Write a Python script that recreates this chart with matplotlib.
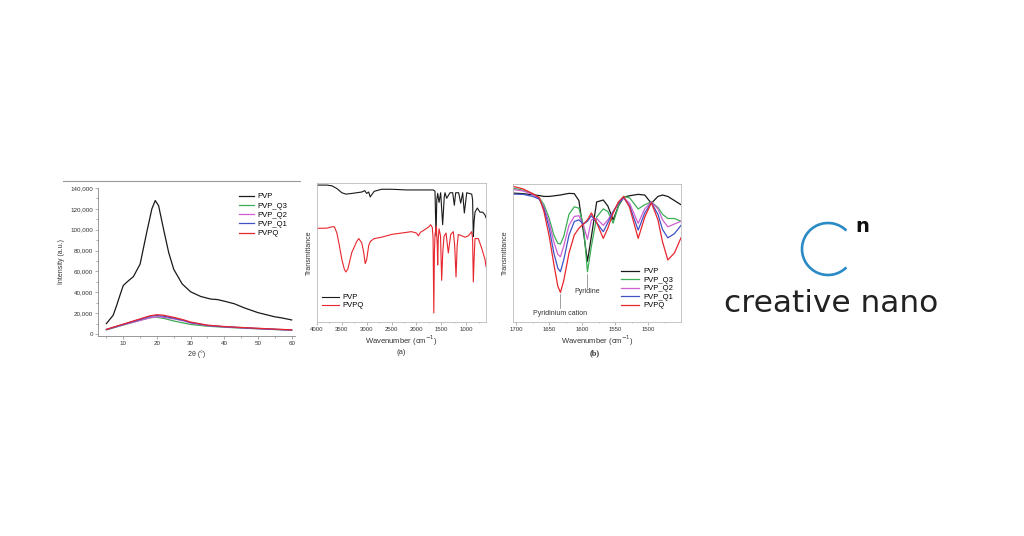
import numpy as np
import matplotlib
matplotlib.use("Agg")
import matplotlib.pyplot as plt
from matplotlib.patches import Arc

plt.rcParams['font.family'] = ['Liberation Sans', 'DejaVu Sans']

# ---- XRD panel ----
two_theta = [5, 7, 8, 9, 10, 11.5, 13, 15, 17, 18.5, 19.5, 20.5, 22, 23.5, 25, 27.5, 30,
             33, 36, 38, 40, 43, 46, 50, 55, 57, 60]
xrd_pvp = [10000, 18000, 27000, 37000, 46500, 51000, 55000, 67000, 98000, 120000, 128000,
           123000, 100000, 78000, 62000, 48000, 40500, 36000, 33500, 33000, 31500, 29000,
           25000, 20500, 16500, 15500, 13500]
two_theta_q = [5, 10, 15, 18, 20, 22, 25, 28, 30, 35, 40, 45, 50, 55, 60]
xrd_q3 = [4000, 8600, 13200, 15800, 16000, 15000, 12500, 10500, 9200, 7500, 6500, 5700, 5000, 4300, 3700]
xrd_q2 = [4200, 8800, 13000, 15500, 16500, 16000, 14500, 12500, 10500, 8000, 6800, 5900, 5100, 4400, 3800]
xrd_q1 = [4300, 9200, 14000, 17000, 17800, 17000, 15200, 13000, 11000, 8200, 7000, 6100, 5300, 4500, 3900]
xrd_pvpq = [4500, 9500, 14500, 17500, 18500, 18000, 16000, 13500, 11500, 8500, 7200, 6300, 5500, 4700, 4000]

# ---- FTIR panel (a) ----
wn_a_pvp = [4000, 3800, 3700, 3600, 3500, 3420, 3300, 3200, 3100, 3040, 3000, 2960, 2930, 2900,
            2850, 2700, 2500, 2200, 2000, 1800, 1660, 1626, 1606, 1590, 1572, 1545, 1512, 1472,
            1440, 1425, 1391, 1324, 1270, 1237, 1210, 1150, 1109, 1069, 1036, 988, 887, 870,
            855, 840, 821, 775, 720, 666, 620, 600]
ftir_pvp = [98.5, 98.5, 98, 96, 93, 92, 92.5, 93, 93.5, 94.5, 92.5, 93.5, 90, 91.5,
            94, 95.5, 95.5, 95, 95, 95, 95, 94, 62, 88, 92.6, 86, 93, 70,
            90, 93, 89, 93, 93, 84, 93, 93, 85.5, 93, 78.4, 93, 92, 88,
            61.5, 72, 79, 82, 79, 79, 77, 75]
wn_a_pvpq = [4000, 3800, 3700, 3650, 3600, 3550, 3500, 3450, 3420, 3380, 3300, 3200, 3160, 3100,
             3060, 3030, 3000, 2960, 2925, 2850, 2700, 2500, 2300, 2100, 2000, 1960, 1920, 1850,
             1750, 1715, 1680, 1665, 1650, 1638, 1626, 1600, 1580, 1572, 1560, 1545, 1515, 1492,
             1470, 1445, 1404, 1358, 1310, 1258, 1230, 1203, 1180, 1157, 1089, 1022, 956, 887,
             870, 855, 840, 821, 754, 686, 620, 600]
ftir_pvpq = [67.4, 67.5, 68.5, 68.5, 64, 55, 45, 38, 36, 38, 50, 58, 60, 57,
             50, 42, 45, 55, 58, 60, 61, 63, 64, 65, 64, 62, 64.5, 66,
             68.5, 70, 68, 60, 6.5, 50, 63, 69, 55, 41, 60, 67, 62, 30,
             50, 61.5, 64, 49.6, 63, 65, 55, 32.4, 55, 63, 62, 61, 62, 65,
             60, 28.8, 45, 60, 60, 53, 45, 40]

# ---- FTIR panel (b) ----
wn_b = [1705, 1690, 1675, 1665, 1658, 1650, 1643, 1637, 1633, 1628, 1620, 1612, 1605, 1598,
        1592, 1586, 1578, 1568, 1561, 1553, 1545, 1537, 1528, 1515, 1505, 1495, 1485, 1478,
        1470, 1460, 1450]
b_pvp = [93.4, 93.0, 92.2, 91.6, 91.0, 91.0, 91.4, 91.8, 92.0, 92.5, 93.2, 93.0, 88.0, 65.0,
         44.0, 62.0, 87.0, 88.4, 84.0, 74.0, 84.0, 90.5, 91.5, 92.5, 92.0, 86.0, 91.0, 92.0,
         91.0, 88.0, 85.0]
b_q3 = [97, 95.5, 93, 90, 85, 75, 63, 57, 56.5, 62, 78, 83.5, 82.5, 70,
        36.4, 55, 76, 82, 80, 71.6, 84, 91, 90, 81.9, 85, 87, 83, 78,
        75, 75, 73]
b_q2 = [96, 95, 92.5, 89, 83, 72, 58, 49, 47.3, 55, 70, 76.5, 77, 70,
        60, 74, 75, 70, 74, 80, 86, 90, 86, 71.5, 82, 87, 82, 74,
        69, 71, 73]
b_q1 = [92.7, 92.5, 91, 89, 82, 68, 50, 39, 36.4, 45, 63, 72.8, 74, 71,
        73, 77, 72, 65.4, 72, 80, 86, 90, 84, 66.6, 79, 86.5, 78, 67,
        61, 64, 70]
b_pvpq = [98.3, 96.5, 93, 90, 80, 62, 42, 26, 21.4, 30, 50, 63, 68, 71,
          74, 79, 72, 60.6, 68, 79, 87, 91, 83, 60.6, 76, 86.5, 74, 58,
          45, 50, 61]

c_black = '#1a1a1a'
c_green = '#3cae55'
c_mag = '#cf5fd2'
c_blue = '#3f52c6'
c_red = '#e8262d'

fig = plt.figure(figsize=(10.24, 5.36), dpi=100)
W, H = 1024, 536


def box(l, t, r, b):
    return [l / W, 1 - b / H, (r - l) / W, (b - t) / H]


over = fig.add_axes([0, 0, 1, 1])
over.set_xlim(0, W)
over.set_ylim(H, 0)
over.axis('off')

# separator line above first panel
over.plot([63, 300], [181, 181], color='#999999', lw=0.8)

# ---- panel 1 ----
ax1 = fig.add_axes(box(98, 188, 295, 336))
ax1.plot(two_theta, xrd_pvp, color=c_black, lw=0.9, label='PVP')
ax1.plot(two_theta_q, xrd_q3, color=c_green, lw=0.9, label='PVP_Q3')
ax1.plot(two_theta_q, xrd_q2, color=c_mag, lw=0.9, label='PVP_Q2')
ax1.plot(two_theta_q, xrd_q1, color=c_blue, lw=0.9, label='PVP_Q1')
ax1.plot(two_theta_q, xrd_pvpq, color=c_red, lw=0.9, label='PVPQ')
ax1.set_xlim(2.5, 61)
ax1.set_ylim(-1900, 140000)
ax1.set_xticks([10, 20, 30, 40, 50, 60])
ax1.set_xticks([5, 15, 25, 35, 45, 55], minor=True)
ax1.set_yticks(range(0, 140001, 20000))
ax1.set_yticks(range(10000, 140000, 20000), minor=True)
ax1.set_yticklabels([f'{v:,}' for v in range(0, 140001, 20000)])
for s in ['top', 'right']:
    ax1.spines[s].set_visible(False)
for s in ['left', 'bottom']:
    ax1.spines[s].set_color('#888888')
    ax1.spines[s].set_linewidth(0.6)
ax1.tick_params(which='both', direction='out', length=2, width=0.5, color='#888888',
                labelsize=4.5, labelcolor='#333333', pad=1.5)
ax1.tick_params(which='minor', length=1.2)
ax1.set_xlabel('2θ (°)', fontsize=5, color='#333333', labelpad=3)
ax1.set_ylabel('Intensity (a.u.)', fontsize=5, color='#333333', labelpad=4)
ax1.legend(loc='upper left', bbox_to_anchor=(239 / W, 1 - 193 / H), bbox_transform=fig.transFigure,
           frameon=False, fontsize=5.5, handlelength=1.9, handletextpad=0.5,
           labelspacing=0.25, borderaxespad=0, borderpad=0)
ax1.patch.set_alpha(0)

# ---- panel 2 (a) ----
ax2 = fig.add_axes(box(317, 183, 486, 322))
ax2.plot(wn_a_pvp, ftir_pvp, color=c_black, lw=0.8, label='PVP')
ax2.plot(wn_a_pvpq, ftir_pvpq, color=c_red, lw=0.8, label='PVPQ')
ax2.set_xlim(4000, 600)
ax2.set_ylim(0, 100)
ax2.set_xticks([4000, 3500, 3000, 2500, 2000, 1500, 1000])
ax2.set_xticks([3750, 3250, 2750, 2250, 1750, 1250, 750], minor=True)
ax2.set_yticks([])
for s in ax2.spines.values():
    s.set_color('#bbbbbb')
    s.set_linewidth(0.6)
ax2.tick_params(which='both', direction='out', length=1.8, width=0.5, color='#999999',
                labelsize=4.3, labelcolor='#333333', pad=1.5)
ax2.tick_params(which='minor', length=1.0)
ax2.set_xlabel('Wavenumber (cm$^{-1}$)', fontsize=5.5, color='#333333', labelpad=1.5)
ax2.set_ylabel('Transmittance', fontsize=5, color='#333333', labelpad=3)
ax2.legend(loc='upper left', bbox_to_anchor=(322 / W, 1 - 294 / H), bbox_transform=fig.transFigure,
           frameon=False, fontsize=5.5, handlelength=2.2, handletextpad=0.5,
           labelspacing=0.1, borderaxespad=0, borderpad=0)
fig.text(401 / W, 1 - 352 / H, '(a)', fontsize=5.5, color='#333333', ha='center', va='center')

# ---- panel 3 (b) ----
ax3 = fig.add_axes(box(513, 184, 681, 322))
ax3.plot(wn_b, b_pvp, color=c_black, lw=0.9, label='PVP')
ax3.plot(wn_b, b_q3, color=c_green, lw=0.9, label='PVP_Q3')
ax3.plot(wn_b, b_q2, color=c_mag, lw=0.9, label='PVP_Q2')
ax3.plot(wn_b, b_q1, color=c_blue, lw=0.9, label='PVP_Q1')
ax3.plot(wn_b, b_pvpq, color=c_red, lw=0.9, label='PVPQ')
ax3.set_xlim(1705, 1450)
ax3.set_ylim(0, 100)
ax3.set_xticks([1700, 1650, 1600, 1550, 1500])
ax3.set_xticks([1675, 1625, 1575, 1525, 1475], minor=True)
ax3.set_yticks([])
for s in ax3.spines.values():
    s.set_color('#bbbbbb')
    s.set_linewidth(0.6)
ax3.tick_params(which='both', direction='out', length=1.8, width=0.5, color='#999999',
                labelsize=4.3, labelcolor='#333333', pad=1.5)
ax3.tick_params(which='minor', length=1.0)
ax3.set_xlabel('Wavenumber (cm$^{-1}$)', fontsize=5.5, color='#333333', labelpad=1.5)
ax3.set_ylabel('Transmittance', fontsize=5, color='#333333', labelpad=3)
ax3.plot([1633, 1633], [20, 10], color='#555555', lw=0.4)
ax3.plot([1592, 1592], [35, 25], color='#555555', lw=0.4)
ax3.text(1633, 6, 'Pyridinium cation', fontsize=5, color='#333333', ha='center', va='center')
ax3.text(1592, 22, 'Pyridine', fontsize=5, color='#333333', ha='center', va='center')
ax3.legend(loc='upper left', bbox_to_anchor=(621 / W, 1 - 268 / H), bbox_transform=fig.transFigure,
           frameon=False, fontsize=5.5, handlelength=2.4, handletextpad=0.5,
           labelspacing=0.15, borderaxespad=0, borderpad=0)
fig.text(595 / W, 1 - 353 / H, '(b)', fontsize=6, color='#333333', ha='center', va='center',
         family='Liberation Serif', weight='bold')

# ---- logo ----
over.add_patch(Arc((828, 249), 52, 52, theta1=45, theta2=315, color='#2a8ac6', lw=1.9))
over.text(862, 232, 'n', fontsize=14, weight='bold', color='#111111', ha='center',
          va='baseline', family='DejaVu Sans')
over.text(831, 312, 'creative nano', fontsize=22.5, color='#222222', ha='center',
          va='baseline', family='DejaVu Sans')

fig.savefig('out.png', dpi=100, facecolor='white')
